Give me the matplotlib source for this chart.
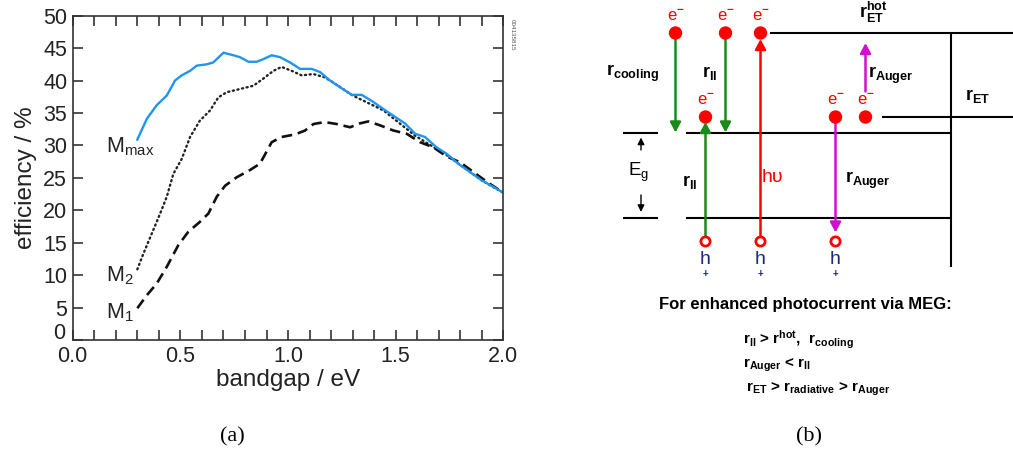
import matplotlib
matplotlib.use("Agg")
import matplotlib.pyplot as plt
from matplotlib.patches import Circle

plt.rcParams['font.family'] = ['Liberation Sans', 'DejaVu Sans']
plt.rcParams['mathtext.fontset'] = 'custom'
plt.rcParams['mathtext.rm'] = 'Liberation Sans'
plt.rcParams['mathtext.bf'] = 'Liberation Sans:bold'
plt.rcParams['mathtext.it'] = 'Liberation Sans:italic'

# efficiency curves (bandgap in eV, efficiency in %)
mmax_x = [0.30, 0.344, 0.39, 0.437, 0.475, 0.506, 0.545, 0.576, 0.622, 0.653, 0.70,
          0.746, 0.777, 0.816, 0.854, 0.885, 0.924, 0.963, 1.009, 1.056, 1.11, 1.149,
          1.195, 1.24, 1.296, 1.342, 1.396, 1.443, 1.497, 1.543, 1.59, 1.636, 1.69,
          1.737, 1.79, 1.845, 1.90, 1.954, 2.0]
mmax_y = [30.9, 34.1, 36.2, 37.7, 40.0, 40.8, 41.5, 42.3, 42.5, 42.8, 44.3,
          43.9, 43.6, 42.9, 42.9, 43.3, 43.9, 43.6, 42.8, 41.8, 41.8, 41.3,
          40.0, 39.0, 37.8, 37.8, 36.7, 35.6, 34.4, 33.4, 31.8, 31.3, 29.7,
          28.7, 27.2, 25.9, 24.6, 23.6, 22.7]

m2_x = [0.30, 0.328, 0.367, 0.406, 0.437, 0.467, 0.506, 0.545, 0.59, 0.638, 0.676,
        0.715, 0.777, 0.839, 0.885, 0.932, 0.97, 1.017, 1.063, 1.118, 1.17, 1.21,
        1.30, 1.443, 1.59, 1.737, 1.90, 2.0]
m2_y = [10.9, 13.3, 16.4, 19.5, 22.1, 25.6, 27.9, 31.3, 33.8, 35.4, 37.4,
        38.2, 38.7, 39.2, 40.3, 41.5, 42.1, 41.5, 40.8, 41.0, 40.5, 39.7,
        37.7, 35.4, 31.5, 28.5, 24.6, 22.7]

m1_x = [0.30, 0.344, 0.39, 0.437, 0.49, 0.537, 0.59, 0.63, 0.669, 0.708, 0.762,
        0.823, 0.87, 0.924, 0.97, 1.033, 1.079, 1.118, 1.17, 1.226, 1.288, 1.334,
        1.373, 1.427, 1.489, 1.551, 1.613, 1.675, 1.737, 1.799, 1.861, 1.923, 2.0]
m1_y = [4.9, 6.9, 8.7, 11.3, 14.6, 16.7, 18.2, 19.5, 22.1, 23.8, 25.1,
        26.2, 27.2, 30.5, 31.3, 31.7, 32.3, 33.3, 33.6, 33.3, 32.8, 33.4,
        33.7, 33.1, 32.3, 31.8, 30.5, 29.7, 28.3, 27.4, 25.9, 24.4, 22.7]

fig = plt.figure(figsize=(10.13, 4.55), dpi=100)

# ---- (a) efficiency vs bandgap ----
ax = fig.add_axes([0.0718, 0.2527, 0.4251, 0.7128])
ax.plot(m2_x, m2_y, color='#222222', lw=1.7, ls=(0, (0.5, 1.5)), dash_capstyle='round')
ax.plot(m1_x, m1_y, color='#111111', lw=1.9, ls=(0, (4, 2.2)))
ax.plot(mmax_x, mmax_y, color='#1f95f0', lw=1.7)
ax.set_xlim(0, 2.0)
ax.set_ylim(0, 50)
ax.set_xticks([0.0, 0.5, 1.0, 1.5, 2.0])
ax.set_xticks([i / 10 for i in range(21)], minor=True)
ax.set_yticks(range(0, 51, 5))
ax.xaxis.set_major_formatter(matplotlib.ticker.FormatStrFormatter('%.1f'))
# the zero label is nudged up so it clears the 0.0 below it
ax.yaxis.set_major_formatter(matplotlib.ticker.FuncFormatter(lambda v, p: '' if v == 0 else f'{v:.0f}'))
ax.tick_params(which='both', direction='in', top=True, right=True, width=1.2,
               colors='#333333', labelcolor='#222222', labelsize=15.5)
ax.tick_params(which='major', length=7, pad=4)
ax.tick_params(which='minor', length=7)
ax.annotate('0', xy=(0, 0), xycoords='axes fraction', xytext=(-5.6, 5),
            textcoords='offset points', ha='right', va='center', fontsize=15.5, color='#222222')
for s in ax.spines.values():
    s.set_linewidth(1.2)
    s.set_color('#333333')
ax.set_xlabel('bandgap / eV', fontsize=17.5, color='#222222', labelpad=2)
ax.set_ylabel('efficiency / %', fontsize=17.5, color='#222222', labelpad=4)
ax.text(0.155, 29.0, r'M$_{\mathrm{max}}$', fontsize=15.5, ha='left', va='baseline', color='#222222')
ax.text(0.155, 9.0, r'M$_{\mathrm{2}}$', fontsize=15.5, ha='left', va='baseline', color='#222222')
ax.text(0.155, 3.3, r'M$_{\mathrm{1}}$', fontsize=15.5, ha='left', va='baseline', color='#222222')
ax.text(1.015, 0.99, '004135815', transform=ax.transAxes, rotation=270, fontsize=4.5,
        color='#555555', ha='left', va='top')

fig.text(232 / 1013, 1 - 437 / 455, '(a)', family='Liberation Serif', fontsize=16,
         ha='center', va='center')
fig.text(809 / 1013, 1 - 437 / 455, '(b)', family='Liberation Serif', fontsize=16,
         ha='center', va='center')

# ---- (b) MEG energy scheme, drawn in pixel units ----
d = fig.add_axes([0, 0, 1, 1])
d.set_xlim(0, 1013)
d.set_ylim(455, 0)
d.axis('off')

y_hot, y_et, y_cb, y_vb, y_h = 33, 117, 132.5, 217.5, 241.5
x_wall = 950.5
lk = dict(color='black', lw=1.5, solid_capstyle='butt')
d.plot([770, 1013], [y_hot, y_hot], **lk)
d.plot([x_wall, x_wall], [y_hot, 267], **lk)
d.plot([882, 1013], [y_et, y_et], **lk)
for y in (y_cb, y_vb):
    d.plot([623, 658], [y, y], **lk)
    d.plot([686, x_wall], [y, y], **lk)

green, red, mag, navy = '#1a8a1a', '#ff0000', '#d010d0', '#1c2a80'


def arrow(x, y0, y1, c, lw=1.8, hw=3.2, hl=6):
    d.annotate('', xy=(x, y1), xytext=(x, y0),
               arrowprops=dict(arrowstyle=f'-|>,head_width={hw / 10},head_length={hl / 10}',
                               color=c, lw=lw, shrinkA=0, shrinkB=0, mutation_scale=10))


arrow(675.5, y_hot, y_cb, green)
arrow(725.5, y_hot, y_cb, green)
arrow(705.5, y_h - 6, y_et + 5, green)
arrow(760.5, y_h - 6, y_hot + 6, red)
arrow(835.5, y_et + 5, y_h - 9, mag)
arrow(865.5, 91.5, 43, mag)
arrow(641, 150, 137.5, 'black', lw=1.0, hw=2, hl=4)
arrow(641, 195, 212, 'black', lw=1.0, hw=2, hl=4)

electrons = [(675.5, y_hot), (725.5, y_hot), (760.5, y_hot),
             (705.5, y_et), (835.5, y_et), (865.5, y_et)]
for ex, ey in electrons:
    d.add_patch(Circle((ex, ey), 6, color=red, zorder=5))
    d.text(ex, ey - 17, r'e$^{\mathbf{-}}$', color=red, fontsize=12, ha='center', va='center')

for hx in (705.5, 760.5, 835.5):
    d.add_patch(Circle((hx, y_h), 4.6, facecolor='white', edgecolor=red, lw=2, zorder=5))
    d.text(hx, y_h + 18, 'h', color=navy, fontsize=14, ha='center', va='center')
    d.text(hx, y_h + 32, '+', color=navy, fontsize=7, ha='center', va='center', weight='bold')

bk = dict(fontsize=13, weight='bold', ha='left', va='center')
d.text(606, 73, r'r$_{\mathbf{cooling}}$', **bk)
d.text(702, 73, r'r$_{\mathbf{II}}$', **bk)
d.text(868, 75, r'r$_{\mathbf{Auger}}$', **bk)
d.text(965, 96, r'r$_{\mathbf{ET}}$', **bk)
d.text(682, 182, r'r$_{\mathbf{II}}$', **bk)
d.text(845, 180, r'r$_{\mathbf{Auger}}$', **bk)
d.text(859, 12, r'r$_{\mathbf{ET}}^{\mathbf{hot}}$', **bk)
d.text(639, 172, r'E$_{\mathrm{g}}$', fontsize=13.5, ha='center', va='center')
d.text(772, 177, 'hυ', color=red, fontsize=14, ha='center', va='center')

d.text(805, 305, 'For enhanced photocurrent via MEG:', fontsize=12, weight='bold',
       ha='center', va='center')
sk = dict(fontsize=11, weight='bold', ha='left', va='center')
d.text(743, 340, r'r$_{\mathbf{II}}$ > r$^{\mathbf{hot}}$,  r$_{\mathbf{cooling}}$', **sk)
d.text(743, 365, r'r$_{\mathbf{Auger}}$ < r$_{\mathbf{II}}$', **sk)
d.text(746, 389, r'r$_{\mathbf{ET}}$ > r$_{\mathbf{radiative}}$ > r$_{\mathbf{Auger}}$', **sk)

fig.savefig('out.png', dpi=100)
